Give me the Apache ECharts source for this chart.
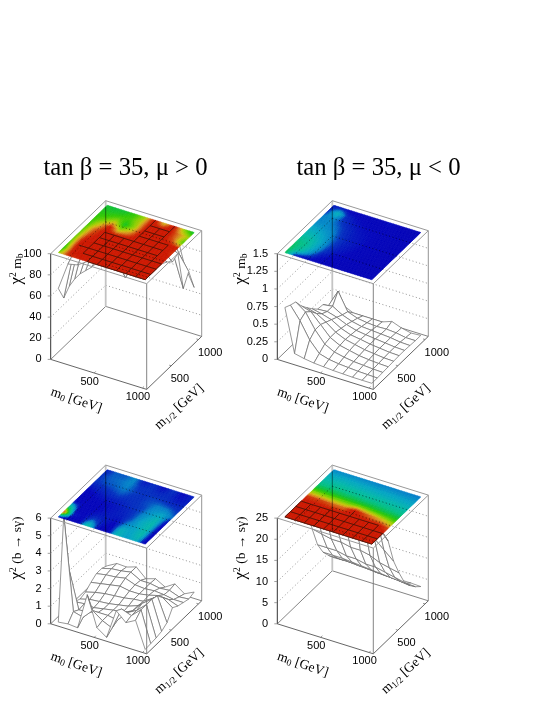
<!DOCTYPE html>
<html>
<head>
<meta charset="utf-8">
<style>
  html, body { margin: 0; padding: 0; background: #fff; }
  #chart { width: 545px; height: 705px; }
</style>
<script src="https://cdn.jsdelivr.net/npm/echarts@6/dist/echarts.min.js"></script>
</head>
<body>
<div id="chart"></div>
<script>
// grid points of the scan, both masses in GeV
const m0Values = [100, 200, 300, 400, 500, 600, 700, 800, 900, 1000]
const m12Values = [100, 200, 300, 400, 500, 600, 700, 800, 900, 1000]
const massTicks = [500, 1000]

const mbTicksPos = [0, 20, 40, 60, 80, 100]
const mbTicksNeg = [0, 0.25, 0.5, 0.75, 1, 1.25, 1.5]
const bsgTicksPos = [0, 1, 2, 3, 4, 5, 6]
const bsgTicksNeg = [0, 5, 10, 15, 20, 25]

// chi2 values, one row per m1/2, one column per m0. Above the z range means clipped in the picture
const chi2MbPos = [
  [66, 92, 94, 110, 110, 110, 110, 110, 110, 110],
  [52, 97, 110, 110, 110, 110, 110, 110, 110, 110],
  [58, 100, 110, 110, 110, 110, 110, 110, 110, 110],
  [60, 98, 110, 110, 110, 110, 110, 110, 110, 110],
  [60, 90, 110, 110, 110, 110, 110, 110, 110, 97],
  [58, 85, 110, 105, 102, 110, 110, 110, 110, 92],
  [56, 72, 97, 68, 80, 105, 110, 110, 100, 95],
  [55, 60, 70, 50, 68, 105, 105, 105, 86, 57],
  [53, 53, 56, 58, 70, 105, 102, 105, 82, 68],
  [50, 49, 50, 56, 68, 100, 72, 100, 66, 48]
]
const chi2MbNeg = [
  [0.72, 0.11, 0.08, 0.06, 0.05, 0.04, 0.035, 0.03, 0.03, 0.03],
  [0.68, 0.5, 0.27, 0.12, 0.08, 0.06, 0.05, 0.04, 0.035, 0.03],
  [0.65, 0.55, 0.34, 0.18, 0.11, 0.08, 0.06, 0.05, 0.04, 0.035],
  [0.52, 0.48, 0.34, 0.2, 0.13, 0.1, 0.07, 0.055, 0.045, 0.04],
  [0.42, 0.38, 0.3, 0.2, 0.14, 0.11, 0.08, 0.065, 0.05, 0.045],
  [0.33, 0.3, 0.26, 0.18, 0.13, 0.11, 0.085, 0.07, 0.055, 0.05],
  [0.25, 0.26, 0.22, 0.16, 0.12, 0.1, 0.085, 0.07, 0.055, 0.05],
  [0.24, 0.26, 0.18, 0.13, 0.1, 0.09, 0.08, 0.07, 0.05, 0.045],
  [0.15, 0.4, 0.15, 0.1, 0.08, 0.07, 0.075, 0.065, 0.04, 0.04],
  [0.13, 0.12, 0.06, 0.06, 0.06, 0.06, 0.11, 0.06, 0.03, 0.04]
]
const chi2BsgPos = [
  [0.03, 0.1, 0.05, 2.1, 0.4, 0.02, 1.7, 1.2, 1.5, 0.02],
  [5.8, 0.5, 0.35, 0.9, 0.5, 0.25, 1.5, 1.3, 1.8, 0.05],
  [2.4, 0.3, 0.35, 0.5, 0.5, 0.4, 1, 1.3, 1.8, 0.08],
  [0.3, 0.35, 0.3, 0.4, 0.5, 0.55, 0.8, 1.4, 1.8, 0.15],
  [0.15, 0.3, 0.35, 0.4, 0.5, 0.6, 0.8, 1.2, 1.7, 0.35],
  [0.25, 0.4, 0.5, 0.55, 0.6, 0.7, 0.75, 1.1, 1.3, 0.9],
  [0.5, 0.6, 0.7, 0.8, 0.7, 0.7, 0.8, 0.95, 0.9, 0.7],
  [0.7, 0.8, 0.85, 0.95, 0.75, 0.7, 0.75, 0.7, 0.6, 0.6],
  [0.7, 0.85, 0.9, 1, 0.7, 0.7, 0.6, 0.65, 0.45, 0.5],
  [0.55, 0.85, 0.82, 1, 0.5, 0.67, 0.37, 0.72, 0.33, 0.6]
]
const chi2BsgNeg = [
  [30, 30, 30, 30, 30, 30, 30, 30, 30, 30],
  [30, 30, 30, 30, 30, 30, 30, 30, 30, 30],
  [30, 30, 30, 30, 30, 30, 30, 30, 28, 27],
  [32, 32, 31, 30, 30, 31, 30, 28, 25, 22],
  [23, 22.5, 22, 21, 21, 26, 22, 20, 18, 16],
  [16, 15.5, 15, 15, 14.5, 14.5, 14, 13, 12.5, 12],
  [11, 11, 11, 10.5, 10.5, 10, 10, 9.5, 9, 8.5],
  [8, 8, 8, 7.8, 7.6, 7.4, 7.2, 7, 6.8, 6.5],
  [6, 6, 6, 5.8, 5.7, 5.5, 5.4, 5.3, 5.1, 5],
  [4.2, 4.3, 4.3, 4.2, 4.1, 4, 4, 3.9, 3.9, 3.8]
]

// colour of the top map against chi2 / zmax
const paletteStops = [
  [0, '#0000b4'], [0.06, '#0004bc'], [0.12, '#0030c0'], [0.16, '#0080c8'],
  [0.22, '#00a4c4'], [0.3, '#00b8a8'], [0.4, '#00c080'], [0.5, '#10c030'],
  [0.56, '#30c800'], [0.66, '#90d000'], [0.74, '#d0c010'], [0.82, '#d88020'],
  [0.9, '#d03a08'], [0.96, '#cc1800'], [1, '#cc1800']
]

const panels = [
  { title: 'tan β = 35, μ > 0', titleX: 125.5, yName: 'mb', values: chi2MbPos, ticks: mbTicksPos, dx: 0, dy: 0 },
  { title: 'tan β = 35, μ < 0', titleX: 378.5, yName: 'mb', values: chi2MbNeg, ticks: mbTicksNeg, dx: 226.6, dy: 0 },
  { title: '', yName: 'bsg', values: chi2BsgPos, ticks: bsgTicksPos, dx: 0, dy: 264.4 },
  { title: '', yName: 'bsg', values: chi2BsgNeg, ticks: bsgTicksNeg, dx: 226.6, dy: 264.4 }
]

// box shape in pixels: the oblique view of gnuplot
const BOX = { left: 50.7, top: 200.7, ux: 96, uy: 30, vx: 55, vy: 53, h: 105.7 }
const M0_RANGE = [50, 1044]
const M12_RANGE = [49, 1060]
const SERIF = '"Liberation Serif", serif'
const SANS = '"Liberation Sans", sans-serif'

const hexToRgb = hex => [1, 3, 5].map(k => parseInt(hex.slice(k, k + 2), 16))

const paletteColor = p => {
  p = Math.max(0, Math.min(1, p))
  for (let k = 1; k < paletteStops.length; k++) {
    if (p <= paletteStops[k][0]) {
      const [p0, c0] = paletteStops[k - 1]
      const [p1, c1] = paletteStops[k]
      const t = (p - p0) / (p1 - p0)
      const a = hexToRgb(c0)
      const b = hexToRgb(c1)
      return 'rgb(' + a.map((x, n) => Math.round(x + (b[n] - x) * t)).join(',') + ')'
    }
  }
  return paletteStops[paletteStops.length - 1][1]
}

// data to the plane of the hidden cartesian axes
const project = (m0, m12, frac) => {
  const u = (m0 - M0_RANGE[0]) / (M0_RANGE[1] - M0_RANGE[0])
  const v = (m12 - M12_RANGE[0]) / (M12_RANGE[1] - M12_RANGE[0])
  return [BOX.ux * u + BOX.vx * v, BOX.uy * (1 - u) + BOX.vy * v + BOX.h * frac]
}

const corner = (u, v, frac) => [
  BOX.ux * u + BOX.vx * v,
  BOX.uy * (1 - u) + BOX.vy * v + BOX.h * frac
]

// part of segment a-b inside a convex quad, all in plane coordinates
const clipToQuad = (a, b, quad) => {
  let t0 = 0
  let t1 = 1
  const cx = quad.reduce((s, q) => s + q[0], 0) / 4
  const cy = quad.reduce((s, q) => s + q[1], 0) / 4
  for (let k = 0; k < 4; k++) {
    const p = quad[k]
    const q = quad[(k + 1) % 4]
    let nx = p[1] - q[1]
    let ny = q[0] - p[0]
    if ((cx - p[0]) * nx + (cy - p[1]) * ny < 0) { nx = -nx; ny = -ny }
    const d0 = (a[0] - p[0]) * nx + (a[1] - p[1]) * ny
    const d1 = (b[0] - p[0]) * nx + (b[1] - p[1]) * ny
    if (d0 < 0 && d1 < 0) return null
    if (d0 < 0) t0 = Math.max(t0, d0 / (d0 - d1))
    if (d1 < 0) t1 = Math.min(t1, d0 / (d0 - d1))
  }
  if (t0 >= t1) return null
  const at = t => [a[0] + (b[0] - a[0]) * t, a[1] + (b[1] - a[1]) * t]
  return [at(t0), at(t1)]
}

const segment = (api, a, b, style) => {
  const p = api.coord(a)
  const q = api.coord(b)
  return { type: 'line', shape: { x1: p[0], y1: p[1], x2: q[0], y2: q[1] }, style: { fill: null, ...style } }
}

const wallGridLines = ticks => {
  const zMax = ticks[ticks.length - 1]
  const lines = []
  ticks.forEach(t => {
    if (t === 0 || t === zMax) return
    const f = t / zMax
    lines.push([corner(0, 0, f), corner(0, 1, f)])
    lines.push([corner(0, 1, f), corner(1, 1, f)])
  })
  return lines
}

const renderBack = panel => (params, api) => {
  const children = []
  wallGridLines(panel.ticks).forEach(([a, b]) => {
    children.push(segment(api, a, b, { stroke: '#777', lineWidth: 0.8, lineDash: [1, 2.5] }))
  })
  const grey = { stroke: '#777', lineWidth: 0.9 }
  children.push(segment(api, corner(0, 0, 0), corner(0, 1, 0), grey))
  children.push(segment(api, corner(0, 1, 0), corner(1, 1, 0), grey))
  children.push(segment(api, corner(0, 1, 0), corner(0, 1, 1), { stroke: '#c4c4c4', lineWidth: 1.8 }))
  children.push(segment(api, corner(1, 1, 0), corner(1, 1, 1), { stroke: '#888', lineWidth: 0.9 }))
  children.push(segment(api, corner(0, 1, 1), corner(1, 1, 1), { stroke: '#999', lineWidth: 1 }))
  children.push(segment(api, corner(0, 0, 1), corner(0, 1, 1), { stroke: '#999', lineWidth: 1 }))
  return { type: 'group', children }
}

const surfaceCells = () => {
  // painter order: far corner of the box first
  const cells = []
  for (let j = m12Values.length - 2; j >= 0; j--) {
    for (let i = 0; i < m0Values.length - 1; i++) cells.push([i, j])
  }
  return cells
}

const renderSurface = panel => (params, api) => {
  const i = api.value(0)
  const j = api.value(1)
  const zMax = panel.ticks[panel.ticks.length - 1]
  const frac = (a, b) => Math.min(1, panel.values[b][a] / zMax)
  const idx = [[i, j], [i + 1, j], [i + 1, j + 1], [i, j + 1]]
  const points = idx.map(([a, b]) => api.coord(project(m0Values[a], m12Values[b], frac(a, b))))
  return { type: 'polygon', shape: { points }, style: { fill: '#fff', stroke: '#6a6a6a', lineWidth: 0.7 } }
}

const renderHeat = panel => (params, api) => {
  const i = api.value(0)
  const j = api.value(1)
  const zMax = panel.ticks[panel.ticks.length - 1]
  const vals = panel.values
  const clip = z => Math.min(1, z / zMax)
  const steps = 6
  const children = []
  for (let a = 0; a < steps; a++) {
    for (let b = 0; b < steps; b++) {
      const s = (a + 0.5) / steps
      const t = (b + 0.5) / steps
      // colour of a sub cell, blended from the four read values at its corners
      const p = (1 - t) * ((1 - s) * clip(vals[j][i]) + s * clip(vals[j][i + 1])) +
        t * ((1 - s) * clip(vals[j + 1][i]) + s * clip(vals[j + 1][i + 1]))
      const at = (x, y) => api.coord(project(
        m0Values[i] + (m0Values[i + 1] - m0Values[i]) * x / steps,
        m12Values[j] + (m12Values[j + 1] - m12Values[j]) * y / steps,
        1
      ))
      const color = paletteColor(p)
      children.push({
        type: 'polygon',
        shape: { points: [at(a, b), at(a + 1, b), at(a + 1, b + 1), at(a, b + 1)] },
        style: { fill: color, stroke: color, lineWidth: 0.6 }
      })
    }
  }
  return { type: 'group', children }
}

const renderOverlay = panel => (params, api) => {
  const zMax = panel.ticks[panel.ticks.length - 1]
  const last = m0Values.length - 1
  const quad = [
    project(m0Values[0], m12Values[0], 1),
    project(m0Values[last], m12Values[0], 1),
    project(m0Values[last], m12Values[last], 1),
    project(m0Values[0], m12Values[last], 1)
  ]
  const children = []
  // back walls and back edge show through the map
  wallGridLines(panel.ticks).forEach(([a, b]) => {
    const part = clipToQuad(a, b, quad)
    if (part) children.push(segment(api, part[0], part[1], { stroke: 'rgba(0,0,0,0.7)', lineWidth: 0.8, lineDash: [1, 2.5] }))
  })
  const edge = clipToQuad(corner(0, 1, 0), corner(0, 1, 1), quad)
  if (edge) children.push(segment(api, edge[0], edge[1], { stroke: 'rgba(0,0,0,0.45)', lineWidth: 1 }))
  // the part of the surface that is clipped at zmax lies on the map
  const clipped = { stroke: '#2a1208', lineWidth: 0.7 }
  const at = (a, b) => project(m0Values[a], m12Values[b], 1)
  panel.values.forEach((row, b) => {
    row.forEach((z, a) => {
      if (z < zMax) return
      if (a < last && row[a + 1] >= zMax) children.push(segment(api, at(a, b), at(a + 1, b), clipped))
      if (b < last && panel.values[b + 1][a] >= zMax) children.push(segment(api, at(a, b), at(a, b + 1), clipped))
    })
  })
  return { type: 'group', children }
}

const richText = {
  base: { fontFamily: SERIF, fontSize: 13.5, lineHeight: 16, fill: '#000' },
  chi: { fontFamily: SERIF, fontSize: 17, lineHeight: 17, fill: '#000' },
  sub: { fontFamily: SERIF, fontSize: 9.5, lineHeight: 10, verticalAlign: 'bottom', fill: '#000' },
  sup: { fontFamily: SERIF, fontSize: 9.5, lineHeight: 10, verticalAlign: 'top', fill: '#000' }
}

const richLabel = (x, y, rotation, text) => ({
  type: 'text',
  x,
  y,
  rotation,
  style: { text, rich: richText, align: 'center', verticalAlign: 'middle', fontFamily: SERIF, fontSize: 14 }
})

const renderFront = panel => (params, api) => {
  const zMax = panel.ticks[panel.ticks.length - 1]
  const children = []
  const dark = { stroke: '#555', lineWidth: 0.9 }
  children.push(segment(api, corner(0, 0, 0), corner(1, 0, 0), dark))
  children.push(segment(api, corner(1, 0, 0), corner(1, 1, 0), dark))
  children.push(segment(api, corner(0, 0, 0), corner(0, 0, 1), { stroke: '#333', lineWidth: 1 }))
  children.push(segment(api, corner(1, 0, 0), corner(1, 0, 1), { stroke: '#777', lineWidth: 0.9 }))
  children.push(segment(api, corner(0, 0, 1), corner(1, 0, 1), { stroke: '#999', lineWidth: 1 }))
  children.push(segment(api, corner(1, 0, 1), corner(1, 1, 1), { stroke: '#999', lineWidth: 1 }))
  const tickText = { fontFamily: SANS, fontSize: 11, fill: '#000' }
  panel.ticks.forEach(t => {
    const base = corner(0, 0, t / zMax)
    children.push(segment(api, [base[0] - 3, base[1]], base, { stroke: '#888', lineWidth: 0.8 }))
    const p = api.coord(base)
    children.push({
      type: 'text', x: p[0] - 9.2, y: p[1],
      style: { text: String(t), align: 'right', verticalAlign: 'middle', ...tickText }
    })
  })
  massTicks.forEach(m => {
    const f = project(m, M12_RANGE[0], 0)
    children.push(segment(api, f, [f[0] + 1.6, f[1] + 1.6], { stroke: '#777', lineWidth: 0.8 }))
    const fp = api.coord(f)
    children.push({
      type: 'text', x: fp[0] - 4.5, y: fp[1] + 8.6,
      style: { text: String(m), align: 'center', verticalAlign: 'middle', ...tickText }
    })
    const r = project(M0_RANGE[1], m, 0)
    children.push(segment(api, r, [r[0] - 2, r[1] + 0.6], { stroke: '#777', lineWidth: 0.8 }))
    const rp = api.coord(r)
    children.push({
      type: 'text', x: rp[0] - 0.5, y: rp[1] + 13,
      style: { text: String(m), align: 'left', verticalAlign: 'middle', ...tickText }
    })
  })
  const o = api.coord(corner(0, 0, 0))
  children.push(richLabel(o[0] + 25.5, o[1] + 41, 19 * -Math.PI / 180, '{base|m}{sub|0}{base| [GeV]}'))
  children.push(richLabel(o[0] + 128.5, o[1] + 47.5, 42 * Math.PI / 180, '{base|m}{sub|1/2}{base| [GeV]}'))
  return { type: 'group', children }
}

const option = {
  animation: false,
  grid: [],
  xAxis: [],
  yAxis: [],
  series: [],
  graphic: []
}

panels.forEach((panel, k) => {
  option.grid.push({
    left: BOX.left + panel.dx,
    top: BOX.top + panel.dy,
    width: BOX.ux + BOX.vx,
    height: BOX.uy + BOX.vy + BOX.h
  })
  option.xAxis.push({ type: 'value', gridIndex: k, show: false, min: 0, max: BOX.ux + BOX.vx })
  option.yAxis.push({ type: 'value', gridIndex: k, show: false, min: 0, max: BOX.uy + BOX.vy + BOX.h })
  const layer = (renderItem, data, z) => ({
    type: 'custom',
    coordinateSystem: 'cartesian2d',
    xAxisIndex: k,
    yAxisIndex: k,
    silent: true,
    clip: false,
    z,
    data,
    renderItem
  })
  option.series.push(layer(renderBack(panel), [[0, 0]], 2))
  option.series.push(layer(renderSurface(panel), surfaceCells(), 3))
  option.series.push(layer(renderHeat(panel), surfaceCells(), 4))
  option.series.push(layer(renderOverlay(panel), [[0, 0]], 5))
  option.series.push(layer(renderFront(panel), [[0, 0]], 6))

  if (panel.title) {
    option.graphic.push({
      type: 'text', x: panel.titleX, y: 168.5, z: 10,
      style: { text: panel.title, align: 'center', verticalAlign: 'middle', fontFamily: SERIF, fontSize: 24.7, fill: '#000' }
    })
  }
  const labelText = panel.yName === 'mb' ? '{chi|χ}{sup|2}{base| m}{sub|b}' : '{chi|χ}{sup|2}{base| (b → sγ)}'
  option.graphic.push({
    type: 'text',
    x: (k % 2 ? 241 : 17),
    y: (panel.yName === 'mb' ? 269 : 548),
    rotation: Math.PI / 2,
    z: 10,
    style: { text: labelText, rich: richText, align: 'center', verticalAlign: 'middle', fontFamily: SERIF, fontSize: 14 }
  })
})

const myChart = echarts.init(document.getElementById('chart'), null, { renderer: 'canvas' })
myChart.setOption(option)
</script>
</body>
</html>
